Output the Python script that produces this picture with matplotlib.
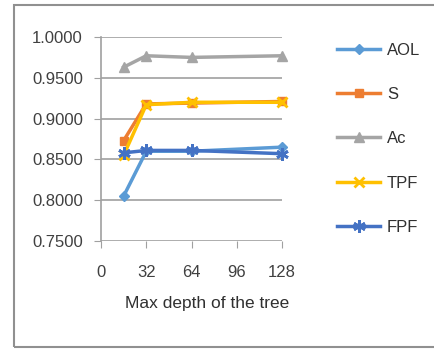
import matplotlib
matplotlib.use("Agg")
import matplotlib.pyplot as plt
from matplotlib.patches import Rectangle

depth = [16, 32, 64, 128]
series_names = ["AOL", "S", "Ac", "TPF", "FPF"]
aol = [0.805, 0.860, 0.860, 0.865]
s_vals = [0.873, 0.918, 0.919, 0.921]
ac = [0.963, 0.977, 0.975, 0.977]
tpf = [0.855, 0.917, 0.920, 0.920]
fpf = [0.858, 0.861, 0.861, 0.857]
yticks = [0.75, 0.80, 0.85, 0.90, 0.95, 1.00]
xticks = [0, 32, 64, 96, 128]

plt.rcParams['font.family'] = ['Liberation Sans', 'DejaVu Sans']

fig = plt.figure(figsize=(4.34, 3.51), dpi=100)
fig.patches.append(Rectangle((14/434, 1-347/351), (440-14)/434, (347-5)/351,
                             transform=fig.transFigure, fill=False, edgecolor='#909090', lw=1.5))
ax = fig.add_axes([101/434, 1-241/351, (282-101)/434, (241-37)/351])

styles = [
    (aol, '#5b9bd5', 'D', 5),
    (s_vals, '#ed7d31', 's', 6),
    (ac, '#a5a5a5', '^', 7),
    (tpf, '#ffc000', 'x', 7),
    (fpf, '#4472c4', (6, 2, 0), 9),
]
for name, (vals, col, mk, ms) in zip(series_names, styles):
    ax.plot(depth, vals, color=col, lw=2.5, marker=mk, markersize=ms, clip_on=False,
            markeredgewidth=2 if mk in ('x', (6, 2, 0)) else 1, label=name)

ax.set_xlim(0, 128)
ax.set_ylim(0.75, 1.0)
ax.set_yticks(yticks)
ax.set_yticklabels([f"{v:.4f}" for v in yticks])
ax.set_xticks(xticks)
ax.set_xticklabels([str(v) for v in xticks])
ax.grid(axis='y', color='#a0a0a0', lw=1.2)
ax.set_axisbelow(True)
for sp in ['top', 'right', 'bottom']:
    ax.spines[sp].set_visible(False)
ax.spines['left'].set_color('#a0a0a0')
ax.spines['left'].set_linewidth(1.2)
ax.tick_params(axis='y', length=5, color='#a0a0a0', labelsize=12, labelcolor='#404040', pad=8)
ax.tick_params(axis='x', length=5, color='#a0a0a0', labelsize=12, labelcolor='#404040', pad=12, direction='out')
ax.set_xlabel("Max depth of the tree", fontsize=12.5, color='#303030')
ax.xaxis.set_label_coords((207-101)/(282-101), -(296-241)/(241-37))

leg = ax.legend(loc='upper left', bbox_to_anchor=(322/434, 1-28/351), bbox_transform=fig.transFigure,
                frameon=False, fontsize=12, labelspacing=1.75, handlelength=2.6, handletextpad=0.4,
                labelcolor='#303030')
fig.savefig("out.png", dpi=100)
